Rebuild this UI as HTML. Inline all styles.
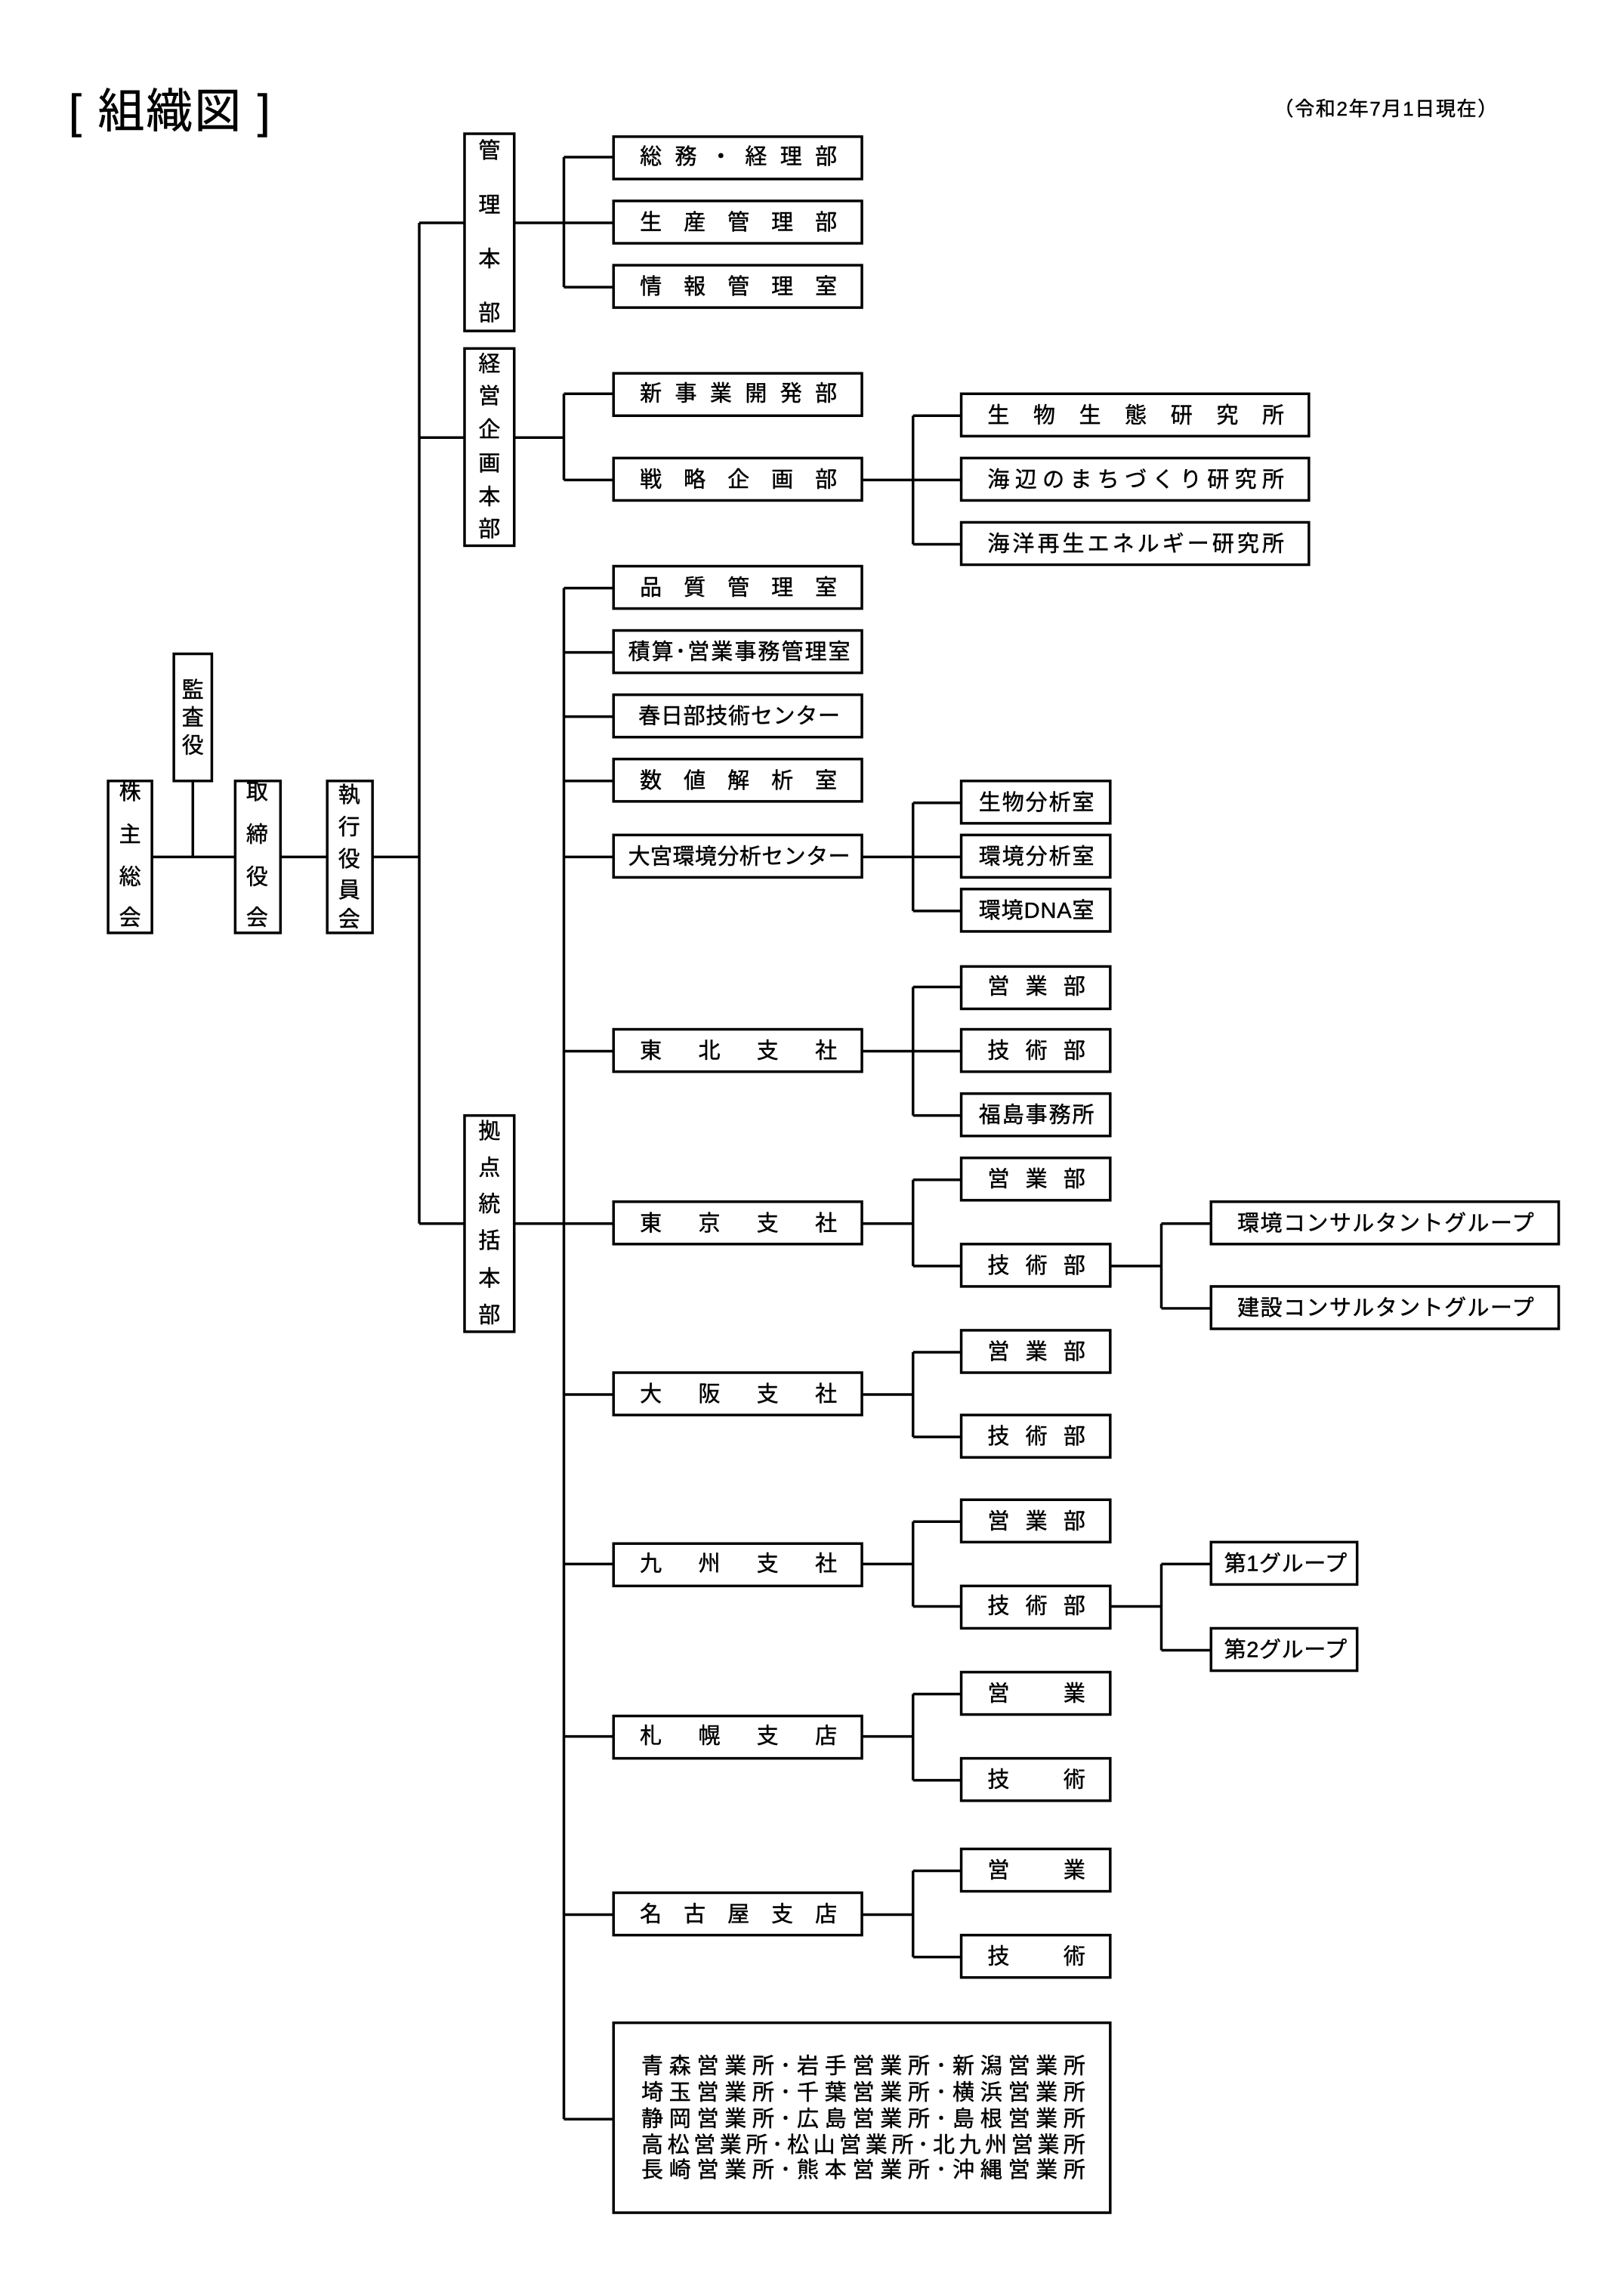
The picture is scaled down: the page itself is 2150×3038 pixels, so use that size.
<!DOCTYPE html>
<html><head><meta charset="utf-8">
<style>
html,body{margin:0;padding:0;background:#fff;}
svg{display:block;}
text{font-family:"Liberation Sans","Noto Sans CJK JP",sans-serif;fill:#000;stroke:#000;stroke-width:0.25;}
</style></head>
<body>
<svg width="2150" height="3038" viewBox="0 0 1111.7 1570.8" xmlns="http://www.w3.org/2000/svg">
<g transform="translate(0,1.5)">
<g fill="none" stroke="#000" stroke-width="1.8">
<rect x="74" y="533" width="30" height="104"/>
<rect x="119" y="446" width="26" height="87"/>
<rect x="161" y="533" width="31" height="104"/>
<rect x="224" y="533" width="31" height="104"/>
<path d="M104 585H161M132 533V585M192 585H224M255 585H287"/>
<path d="M287 151V836M287 151H318M287 298H318M287 836H318"/>
<rect x="318" y="90" width="34" height="135"/>
<rect x="318" y="237" width="34" height="135"/>
<rect x="318" y="762" width="34" height="148"/>
<path d="M352 151H386M386 106V195M386 106H420M386 151H420M386 195H420"/>
<rect x="420" y="92" width="170" height="29"/>
<rect x="420" y="136" width="170" height="29"/>
<rect x="420" y="180" width="170" height="29"/>
<path d="M352 298H386M386 268V327M386 268H420M386 327H420"/>
<rect x="420" y="254" width="170" height="29"/>
<rect x="420" y="312" width="170" height="29"/>
<path d="M590 327H658M625 283V371M625 283H658M625 371H658"/>
<rect x="658" y="268" width="238" height="29"/>
<rect x="658" y="312" width="238" height="29"/>
<rect x="658" y="356" width="238" height="29"/>
<path d="M352 836H420M386 401V1449"/>
<path d="M386 401H420M386 445H420M386 489H420M386 533H420M386 585H420M386 718H420M386 953H420M386 1069H420M386 1187H420M386 1309H420M386 1449H420"/>
<rect x="420" y="386" width="170" height="29"/>
<rect x="420" y="430" width="170" height="29"/>
<rect x="420" y="474" width="170" height="29"/>
<rect x="420" y="518" width="170" height="29"/>
<rect x="420" y="570" width="170" height="29"/>
<rect x="420" y="703" width="170" height="29"/>
<rect x="420" y="821" width="170" height="29"/>
<rect x="420" y="938" width="170" height="29"/>
<rect x="420" y="1055" width="170" height="29"/>
<rect x="420" y="1173" width="170" height="29"/>
<rect x="420" y="1294" width="170" height="29"/>
<rect x="420" y="1383" width="340" height="130"/>
<path d="M590 585H658M625 548V622M625 548H658M625 622H658"/>
<rect x="658" y="533" width="102" height="29"/>
<rect x="658" y="570" width="102" height="29"/>
<rect x="658" y="607" width="102" height="29"/>
<path d="M590 718H658M625 674V762M625 674H658M625 762H658"/>
<rect x="658" y="660" width="102" height="29"/>
<rect x="658" y="703" width="102" height="29"/>
<rect x="658" y="747" width="102" height="29"/>
<path d="M590 836H625M625 806V865M625 806H658M625 865H658"/>
<rect x="658" y="791" width="102" height="29"/>
<rect x="658" y="850" width="102" height="29"/>
<path d="M760 865H795M795 836V894M795 836H829M795 894H829"/>
<rect x="829" y="821" width="238" height="29"/>
<rect x="829" y="879" width="238" height="29"/>
<path d="M590 953H625M625 924V982M625 924H658M625 982H658"/>
<rect x="658" y="909" width="102" height="29"/>
<rect x="658" y="967" width="102" height="29"/>
<path d="M590 1069H625M625 1040V1098M625 1040H658M625 1098H658"/>
<rect x="658" y="1025" width="102" height="29"/>
<rect x="658" y="1084" width="102" height="29"/>
<path d="M760 1098H795M795 1069V1128M795 1069H829M795 1128H829"/>
<rect x="829" y="1054" width="100" height="29"/>
<rect x="829" y="1113" width="100" height="29"/>
<path d="M590 1187H625M625 1158V1217M625 1158H658M625 1217H658"/>
<rect x="658" y="1143" width="102" height="29"/>
<rect x="658" y="1202" width="102" height="29"/>
<path d="M590 1309H625M625 1279V1338M625 1279H658M625 1338H658"/>
<rect x="658" y="1264" width="102" height="29"/>
<rect x="658" y="1323" width="102" height="29"/>
</g>

<g font-size="15" dominant-baseline="central">
<text x="47" y="75" font-size="32" textLength="138" lengthAdjust="spacing">[ 組織図 ]</text>
<text x="872" y="73" font-size="13.5" textLength="153" lengthAdjust="spacing">（令和2年7月1日現在）</text>

<g text-anchor="middle">
<text x="89" y="541">株</text><text x="89" y="570">主</text><text x="89" y="599">総</text><text x="89" y="627">会</text>
<text x="132" y="471">監</text><text x="132" y="490">査</text><text x="132" y="509">役</text>
<text x="176" y="541">取</text><text x="176" y="570">締</text><text x="176" y="599">役</text><text x="176" y="627">会</text>
<text x="239" y="543">執</text><text x="239" y="565">行</text><text x="239" y="587">役</text><text x="239" y="608">員</text><text x="239" y="628">会</text>
<text x="335" y="102">管</text><text x="335" y="139">理</text><text x="335" y="176">本</text><text x="335" y="213">部</text>
<text x="335" y="248">経</text><text x="335" y="270">営</text><text x="335" y="293">企</text><text x="335" y="316">画</text><text x="335" y="339">本</text><text x="335" y="361">部</text>
<text x="335" y="773">拠</text><text x="335" y="798">点</text><text x="335" y="823">統</text><text x="335" y="848">括</text><text x="335" y="874">本</text><text x="335" y="899">部</text>
</g>

<text x="438" y="106" textLength="135" lengthAdjust="spacing">総務・経理部</text>
<text x="438" y="151" textLength="135" lengthAdjust="spacing">生産管理部</text>
<text x="438" y="195" textLength="135" lengthAdjust="spacing">情報管理室</text>
<text x="438" y="268" textLength="135" lengthAdjust="spacing">新事業開発部</text>
<text x="438" y="327" textLength="135" lengthAdjust="spacing">戦略企画部</text>
<text x="676" y="283" textLength="203" lengthAdjust="spacing">生物生態研究所</text>
<text x="676" y="327" textLength="203" lengthAdjust="spacing">海辺のまちづくり研究所</text>
<text x="676" y="371" textLength="203" lengthAdjust="spacing">海洋再生エネルギー研究所</text>

<text x="438" y="401" textLength="135" lengthAdjust="spacing">品質管理室</text>
<text x="430" y="445" textLength="152" lengthAdjust="spacing">積算･営業事務管理室</text>
<text x="437" y="489" textLength="138" lengthAdjust="spacing">春日部技術センター</text>
<text x="438" y="533" textLength="135" lengthAdjust="spacing">数値解析室</text>
<text x="430" y="585" textLength="152" lengthAdjust="spacing">大宮環境分析センター</text>
<text x="438" y="718" textLength="135" lengthAdjust="spacing">東北支社</text>
<text x="438" y="836" textLength="135" lengthAdjust="spacing">東京支社</text>
<text x="438" y="953" textLength="135" lengthAdjust="spacing">大阪支社</text>
<text x="438" y="1069" textLength="135" lengthAdjust="spacing">九州支社</text>
<text x="438" y="1187" textLength="135" lengthAdjust="spacing">札幌支店</text>
<text x="438" y="1309" textLength="135" lengthAdjust="spacing">名古屋支店</text>

<text x="670" y="548" textLength="79" lengthAdjust="spacing">生物分析室</text>
<text x="670" y="585" textLength="79" lengthAdjust="spacing">環境分析室</text>
<text x="670" y="622" textLength="79" lengthAdjust="spacing">環境DNA室</text>
<text x="676" y="674" textLength="67" lengthAdjust="spacing">営業部</text>
<text x="676" y="718" textLength="67" lengthAdjust="spacing">技術部</text>
<text x="670" y="762" textLength="79" lengthAdjust="spacing">福島事務所</text>
<text x="676" y="806" textLength="67" lengthAdjust="spacing">営業部</text>
<text x="676" y="865" textLength="67" lengthAdjust="spacing">技術部</text>
<text x="676" y="924" textLength="67" lengthAdjust="spacing">営業部</text>
<text x="676" y="982" textLength="67" lengthAdjust="spacing">技術部</text>
<text x="676" y="1040" textLength="67" lengthAdjust="spacing">営業部</text>
<text x="676" y="1098" textLength="67" lengthAdjust="spacing">技術部</text>
<text x="676" y="1158" textLength="67" lengthAdjust="spacing">営業</text>
<text x="676" y="1217" textLength="67" lengthAdjust="spacing">技術</text>
<text x="676" y="1279" textLength="67" lengthAdjust="spacing">営業</text>
<text x="676" y="1338" textLength="67" lengthAdjust="spacing">技術</text>

<text x="847" y="836" textLength="203" lengthAdjust="spacing">環境コンサルタントグループ</text>
<text x="847" y="894" textLength="203" lengthAdjust="spacing">建設コンサルタントグループ</text>
<text x="838" y="1069" textLength="84" lengthAdjust="spacing">第1グループ</text>
<text x="838" y="1128" textLength="84" lengthAdjust="spacing">第2グループ</text>

<text x="439" y="1413" textLength="304" lengthAdjust="spacing">青森営業所･岩手営業所･新潟営業所</text>
<text x="439" y="1431" textLength="304" lengthAdjust="spacing">埼玉営業所･千葉営業所･横浜営業所</text>
<text x="439" y="1449" textLength="304" lengthAdjust="spacing">静岡営業所･広島営業所･島根営業所</text>
<text x="439" y="1467" textLength="304" lengthAdjust="spacing">高松営業所･松山営業所･北九州営業所</text>
<text x="439" y="1484" textLength="304" lengthAdjust="spacing">長崎営業所･熊本営業所･沖縄営業所</text>
</g>
</g>
</svg>
</body></html>
